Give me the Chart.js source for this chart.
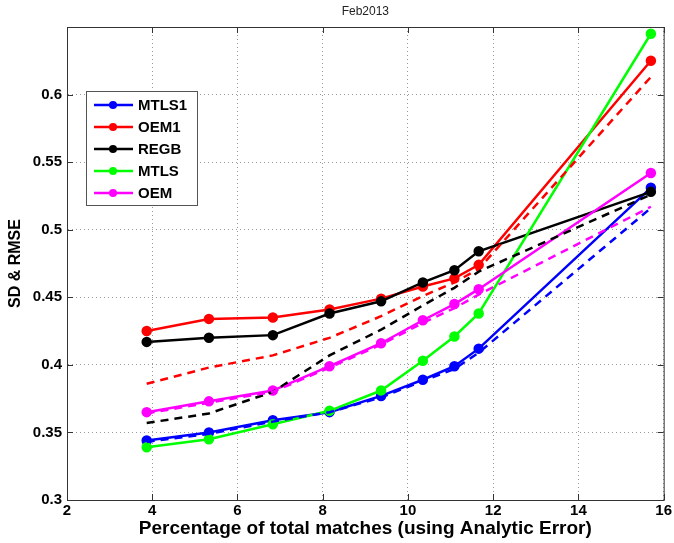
<!DOCTYPE html>
<html>
<head>
<meta charset="utf-8">
<script src="https://cdn.jsdelivr.net/npm/chart.js@4.4.0/dist/chart.umd.min.js"></script>
<style>
  html, body { margin: 0; padding: 0; background: #fff; }
  #wrap { width: 674px; height: 543px; }
</style>
</head>
<body>
<div id="wrap"><canvas id="chartCanvas" width="674" height="543"></canvas></div>
<script>
// percentage of total matches (x positions of the points)
const matchPct = [3.87, 5.33, 6.83, 8.16, 9.37, 10.35, 11.09, 11.66, 15.7];

// solid lines (with markers)
const mtls1 = [0.344, 0.350, 0.359, 0.365, 0.377, 0.389, 0.399, 0.412, 0.531];
const oem1  = [0.425, 0.434, 0.435, 0.441, 0.449, 0.458, 0.464, 0.474, 0.625];
const regb  = [0.417, 0.420, 0.422, 0.438, 0.447, 0.461, 0.470, 0.484, 0.528];
const mtls  = [0.339, 0.345, 0.356, 0.366, 0.381, 0.403, 0.421, 0.438, 0.645];
const oem   = [0.365, 0.373, 0.381, 0.399, 0.416, 0.433, 0.445, 0.456, 0.542];

// dashed lines (no markers)
const mtls1Dash = [0.343, 0.349, 0.358, 0.365, 0.376, 0.388, 0.397, 0.409, 0.516];
const oem1Dash  = [0.386, 0.398, 0.407, 0.420, 0.436, 0.451, 0.461, 0.471, 0.613];
const regbDash  = [0.357, 0.364, 0.380, 0.407, 0.426, 0.444, 0.457, 0.469, 0.526];
const oemDash   = [0.364, 0.372, 0.380, 0.398, 0.415, 0.431, 0.442, 0.452, 0.517];

const xTicks = [2, 4, 6, 8, 10, 12, 14, 16];
const yTicks = [0.3, 0.35, 0.4, 0.45, 0.5, 0.55, 0.6];

function pts(arr) {
    return arr.map((v, i) => ({ x: matchPct[i], y: v }));
}

function solid(label, arr, color, order) {
    return {
        label: label, data: pts(arr), borderColor: color, backgroundColor: color,
        borderWidth: 2.5, pointRadius: 4, pointHoverRadius: 4, order: order, tension: 0
    };
}
function dashed(arr, color, order) {
    return {
        label: '', data: pts(arr), borderColor: color, backgroundColor: color,
        borderWidth: 2.5, borderDash: [8, 6], pointRadius: 0, order: order, tension: 0
    };
}

const datasets = [
    solid('MTLS1', mtls1, '#0000ff', 10),
    solid('OEM1', oem1, '#ff0000', 9),
    solid('REGB', regb, '#000000', 8),
    solid('MTLS', mtls, '#00ff00', 7),
    solid('OEM', oem, '#ff00ff', 6),
    dashed(mtls1Dash, '#0000ff', 5),
    dashed(oem1Dash, '#ff0000', 4),
    dashed(regbDash, '#000000', 3),
    dashed(oemDash, '#ff00ff', 2)
];

const FONT = '"Liberation Sans", Arial, sans-serif';

// box, inward ticks, title and legend, MATLAB style
const extras = {
    id: 'extras',
    afterDraw(chart) {
        const ctx = chart.ctx;
        const a = chart.chartArea;
        const xs = chart.scales.x, ys = chart.scales.y;
        ctx.save();
        ctx.strokeStyle = '#333';
        ctx.lineWidth = 1;
        ctx.setLineDash([]);
        ctx.strokeRect(a.left + 0.5, a.top + 0.5, a.right - a.left, a.bottom - a.top);
        ctx.beginPath();
        xTicks.forEach(t => {
            const px = Math.round(xs.getPixelForValue(t)) + 0.5;
            ctx.moveTo(px, a.bottom); ctx.lineTo(px, a.bottom - 6);
            ctx.moveTo(px, a.top); ctx.lineTo(px, a.top + 6);
        });
        yTicks.forEach(t => {
            const py = Math.round(ys.getPixelForValue(t)) + 0.5;
            ctx.moveTo(a.left, py); ctx.lineTo(a.left + 6, py);
            ctx.moveTo(a.right, py); ctx.lineTo(a.right - 6, py);
        });
        ctx.stroke();

        ctx.fillStyle = '#222';
        ctx.font = '12px ' + FONT;
        ctx.textAlign = 'center';
        ctx.textBaseline = 'middle';
        ctx.fillText('Feb2013', (a.left + a.right) / 2, 12);

        // legend
        const lx = 86, ly = 91, lw = 111, lh = 114;
        ctx.fillStyle = '#fff';
        ctx.fillRect(lx, ly, lw, lh);
        ctx.strokeStyle = '#555';
        ctx.strokeRect(lx + 0.5, ly + 0.5, lw, lh);
        ctx.font = 'bold 15px ' + FONT;
        ctx.textAlign = 'left';
        datasets.filter(d => d.label).forEach((d, i) => {
            const y = ly + 14 + i * 22;
            ctx.strokeStyle = d.borderColor;
            ctx.lineWidth = 2.5;
            ctx.beginPath();
            ctx.moveTo(94, y); ctx.lineTo(133, y);
            ctx.stroke();
            ctx.fillStyle = d.borderColor;
            ctx.beginPath();
            ctx.arc(113, y, 4, 0, Math.PI * 2);
            ctx.fill();
            ctx.fillStyle = '#000';
            ctx.fillText(d.label, 138, y + 1);
        });
        ctx.restore();
    }
};

new Chart(document.getElementById('chartCanvas').getContext('2d'), {
    type: 'line',
    data: { datasets: datasets },
    options: {
        responsive: false,
        animation: false,
        layout: { padding: { top: 27, right: 7, left: 0, bottom: 0 } },
        plugins: { legend: { display: false }, tooltip: { enabled: false } },
        scales: {
            x: {
                type: 'linear', min: 2, max: 16,
                afterFit: s => { s.height = 43; },
                afterBuildTicks: s => { s.ticks = xTicks.map(v => ({ value: v })); },
                grid: { color: '#999', drawTicks: false },
                border: { display: true, color: '#333', dash: [1, 3] },
                ticks: { font: { family: FONT, size: 15, weight: 'bold' }, color: '#000', padding: 2, maxRotation: 0 },
                title: {
                    display: true, text: 'Percentage of total matches (using Analytic Error)',
                    font: { family: FONT, size: 19, weight: 'bold' }, color: '#000', padding: { top: 0, bottom: 3 }
                }
            },
            y: {
                type: 'linear', min: 0.3, max: 0.65,
                afterFit: s => { s.width = 67; },
                afterBuildTicks: s => { s.ticks = yTicks.map(v => ({ value: v })); },
                grid: { color: '#999', drawTicks: false },
                border: { display: true, color: '#333', dash: [1, 3] },
                ticks: {
                    font: { family: FONT, size: 15, weight: 'bold' }, color: '#000', padding: 5,
                    callback: v => String(Math.round(v * 100) / 100)
                },
                title: {
                    display: true, text: 'SD & RMSE',
                    font: { family: FONT, size: 16, weight: 'bold' }, color: '#000', padding: { top: 6, bottom: 0 }
                }
            }
        }
    },
    plugins: [extras]
});
</script>
</body>
</html>
